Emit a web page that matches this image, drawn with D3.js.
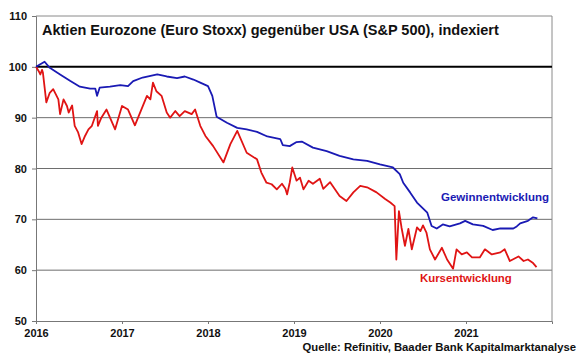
<!DOCTYPE html>
<html><head><meta charset="utf-8">
<script src="https://cdn.jsdelivr.net/npm/d3@7"></script>
<style>body{margin:0;background:#fff}svg{display:block}text{font-family:"Liberation Sans",Arial,sans-serif;font-weight:bold}</style>
</head><body><svg id="c" width="580" height="359"></svg>
<script>
const yearTicks = [2016, 2017, 2018, 2019, 2020, 2021];
const valueTicks = [50, 60, 70, 80, 90, 100, 110];
const earnDates = [2016.00,2016.10,2016.16,2016.28,2016.40,2016.51,2016.63,2016.69,2016.71,2016.74,2016.86,2016.98,2017.07,2017.13,2017.24,2017.41,2017.52,2017.64,2017.73,2017.83,2017.91,2018.00,2018.05,2018.10,2018.22,2018.34,2018.45,2018.57,2018.69,2018.84,2018.87,2018.95,2019.03,2019.09,2019.22,2019.38,2019.53,2019.69,2019.85,2020.00,2020.15,2020.23,2020.27,2020.35,2020.43,2020.55,2020.60,2020.66,2020.73,2020.81,2020.93,2020.99,2021.08,2021.20,2021.31,2021.40,2021.55,2021.59,2021.63,2021.72,2021.78,2021.83];
const earnValues = [100,101,99.8,98.5,97.2,96.1,95.7,95.7,94.3,95.9,96.1,96.4,96.2,97.2,97.9,98.5,98.1,97.8,98.1,97.5,96.9,96.2,94.3,90.2,89.0,88.0,87.7,87.2,86.3,85.8,84.6,84.4,85.2,85.3,84.1,83.4,82.5,81.8,81.5,80.8,80.2,78.9,77.2,75.3,73.3,71.3,68.7,68.2,69.0,68.6,69.2,69.7,69.0,68.7,67.9,68.2,68.2,68.6,69.2,69.7,70.4,70.2];
const priceDates = [2016.00,2016.03,2016.05,2016.07,2016.08,2016.12,2016.16,2016.20,2016.26,2016.28,2016.32,2016.36,2016.38,2016.42,2016.45,2016.49,2016.53,2016.57,2016.61,2016.65,2016.71,2016.72,2016.76,2016.82,2016.92,2017.00,2017.07,2017.15,2017.29,2017.33,2017.36,2017.40,2017.46,2017.52,2017.56,2017.62,2017.67,2017.73,2017.81,2017.85,2017.91,2017.97,2018.06,2018.18,2018.26,2018.34,2018.45,2018.57,2018.62,2018.68,2018.74,2018.80,2018.86,2018.90,2018.92,2018.95,2018.98,2019.03,2019.07,2019.11,2019.17,2019.22,2019.30,2019.34,2019.42,2019.53,2019.61,2019.69,2019.77,2019.85,2019.96,2020.06,2020.12,2020.17,2020.19,2020.22,2020.25,2020.29,2020.33,2020.37,2020.43,2020.47,2020.50,2020.54,2020.58,2020.64,2020.72,2020.78,2020.85,2020.89,2020.95,2021.01,2021.07,2021.16,2021.22,2021.30,2021.40,2021.45,2021.51,2021.61,2021.67,2021.72,2021.78,2021.82];
const priceValues = [100,99.2,98.5,99.4,98.9,93.0,94.9,95.6,93.6,90.7,93.6,92.3,91.0,92.4,88.4,87.1,84.8,86.4,87.7,88.4,91.3,88.4,90.0,91.6,87.7,92.3,91.6,88.5,94.3,93.6,96.9,95.2,94.3,91.0,90.0,91.3,90.3,91.3,90.7,91.6,88.4,86.4,84.4,81.2,84.8,87.4,83.1,81.8,79.2,77.2,76.9,75.9,77.0,76.0,74.9,77.2,80.2,77.6,78.2,75.9,77.6,77.0,78.0,76.0,77.3,74.6,73.6,75.3,76.6,76.3,75.3,74.0,73.3,72.6,62.1,71.6,68.4,64.8,68.1,64.1,68.4,67.7,68.8,67.4,64.1,62.1,64.4,62.1,60.3,64.1,63.1,63.5,62.5,62.5,64.1,63.1,63.5,64.1,61.8,62.7,61.8,62.1,61.4,60.6];

const L=36,R=552,T=16,B=321;
const svg=d3.select("#c");
const x=d3.scaleLinear().domain([2016,2022]).range([L,R]);
const y=d3.scaleLinear().domain([50,110]).range([B,T]);

svg.append("g").selectAll("line").data(valueTicks.filter(v=>v>50&&v<110&&v!==100)).join("line")
  .attr("x1",L).attr("x2",R).attr("y1",d=>y(d)).attr("y2",d=>y(d)).attr("stroke","#6e6e6e").attr("stroke-width",1);
svg.append("line").attr("x1",L).attr("x2",R).attr("y1",y(110)).attr("y2",y(110)).attr("stroke","#8a8a8a");
svg.append("line").attr("x1",R).attr("x2",R).attr("y1",T).attr("y2",B).attr("stroke","#8a8a8a");

const yAxis=svg.append("g").attr("transform",`translate(${L},0)`).call(d3.axisLeft(y).tickValues(valueTicks).tickSize(4).tickPadding(5));
const xAxis=svg.append("g").attr("transform",`translate(0,${B})`).call(d3.axisBottom(x).tickValues(yearTicks).tickFormat(d3.format("d")).tickSize(3).tickPadding(5));
[yAxis,xAxis].forEach(a=>{a.select(".domain").attr("stroke","#777");a.selectAll(".tick line").attr("stroke","#777");a.selectAll("text").attr("font-size",11).attr("fill","#111").style("font-weight","bold");});

svg.append("line").attr("x1",L).attr("x2",R).attr("y1",y(100)).attr("y2",y(100)).attr("stroke","#000").attr("stroke-width",2);

const line=d3.line().x(d=>x(d[0])).y(d=>y(d[1]));
svg.append("path").datum(d3.zip(priceDates,priceValues)).attr("d",line).attr("fill","none").attr("stroke","#e01414").attr("stroke-width",1.8).attr("stroke-linejoin","round");
svg.append("path").datum(d3.zip(earnDates,earnValues)).attr("d",line).attr("fill","none").attr("stroke","#1a1ab4").attr("stroke-width",1.8).attr("stroke-linejoin","round");

svg.append("text").attr("x",42).attr("y",35).attr("font-size",14.5).attr("fill","#111").text("Aktien Eurozone (Euro Stoxx) gegenüber USA (S&P 500), indexiert");
svg.append("text").attr("x",441).attr("y",201).attr("font-size",11.5).attr("fill","#1a1ab4").text("Gewinnentwicklung");
svg.append("text").attr("x",420).attr("y",282).attr("font-size",11.4).attr("fill","#e01414").text("Kursentwicklung");
svg.append("text").attr("x",576).attr("y",351).attr("text-anchor","end").attr("font-size",11.3).attr("fill","#111").text("Quelle: Refinitiv, Baader Bank Kapitalmarktanalyse");
</script></body></html>
